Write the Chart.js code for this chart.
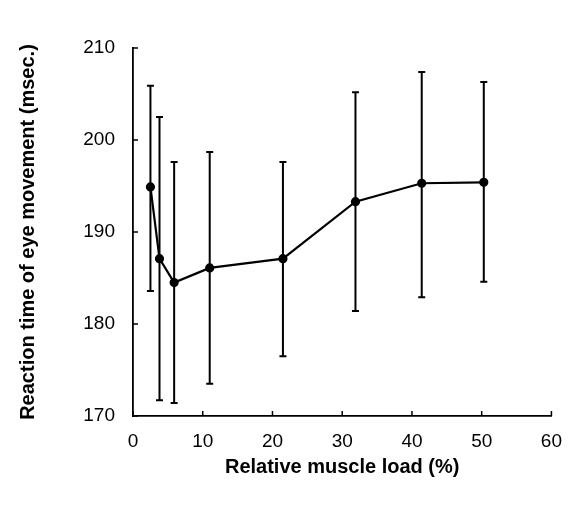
<!DOCTYPE html>
<html>
<head>
<meta charset="utf-8">
<script src="https://cdn.jsdelivr.net/npm/chart.js@4/dist/chart.umd.min.js"></script>
<style>
  html, body { margin: 0; padding: 0; background: #fff; }
  #wrap { width: 576px; height: 507px; position: relative; }
</style>
</head>
<body>
<div id="wrap"><canvas id="c" width="576" height="507"></canvas></div>
<script>
// Data
const loadPct   = [2.5, 3.8, 5.9, 11.0, 21.5, 31.9, 41.4, 50.3];
const meanRT    = [194.9, 187.1, 184.5, 186.1, 187.1, 193.3, 195.3, 195.4];
const errHigh   = [205.9, 202.5, 197.6, 198.7, 197.6, 205.2, 207.4, 206.3];
const errLow    = [183.6, 171.7, 171.4, 173.5, 176.5, 181.4, 182.9, 184.6];
const xTickVals = [0, 10, 20, 30, 40, 50, 60];
const yTickVals = [170, 180, 190, 200, 210];
const xTitle = 'Relative muscle load (%)';
const yTitle = 'Reaction time of eye movement (msec.)';

const FONT = "'Liberation Sans', Arial, Helvetica, sans-serif";

const errorBarPlugin = {
  id: 'errorBars',
  afterDatasetsDraw(chart) {
    const ctx = chart.ctx;
    const xs = chart.scales.x, ys = chart.scales.y;
    ctx.save();
    ctx.strokeStyle = '#000';
    ctx.lineWidth = 2;
    for (let i = 0; i < loadPct.length; i++) {
      const px = xs.getPixelForValue(loadPct[i]);
      const top = ys.getPixelForValue(errHigh[i]);
      const bot = ys.getPixelForValue(errLow[i]);
      ctx.beginPath();
      ctx.moveTo(px, top); ctx.lineTo(px, bot);
      ctx.moveTo(px - 3.5, top); ctx.lineTo(px + 3.5, top);
      ctx.moveTo(px - 3.5, bot); ctx.lineTo(px + 3.5, bot);
      ctx.stroke();
    }
    ctx.restore();
  }
};

const innerTickPlugin = {
  id: 'innerTicks',
  afterDraw(chart) {
    const ctx = chart.ctx;
    const xs = chart.scales.x, ys = chart.scales.y;
    const area = chart.chartArea;
    ctx.save();
    ctx.strokeStyle = '#000';
    ctx.lineWidth = 1.5;
    ctx.beginPath();
    xTickVals.forEach(v => {
      const px = xs.getPixelForValue(v);
      ctx.moveTo(px, area.bottom);
      ctx.lineTo(px, area.bottom - 5);
    });
    yTickVals.forEach(v => {
      const py = ys.getPixelForValue(v);
      ctx.moveTo(area.left, py);
      ctx.lineTo(area.left + 5, py);
    });
    ctx.stroke();
    ctx.restore();
  }
};

new Chart(document.getElementById('c'), {
  type: 'line',
  data: {
    datasets: [{
      data: loadPct.map((x, i) => ({ x: x, y: meanRT[i] })),
      borderColor: '#000',
      backgroundColor: '#000',
      borderWidth: 2.2,
      pointRadius: 3.5,
      pointBackgroundColor: '#000',
      pointBorderColor: '#000',
      tension: 0,
      fill: false
    }]
  },
  options: {
    responsive: false,
    animation: false,
    devicePixelRatio: 1,
    layout: { padding: { top: 48, right: 14, left: 0, bottom: 28 } },
    plugins: { legend: { display: false }, tooltip: { enabled: false } },
    scales: {
      x: {
        type: 'linear',
        min: 0, max: 60,
        afterFit(s) { s.height = 63; },
        afterBuildTicks(s) { s.ticks = xTickVals.map(v => ({ value: v })); },
        grid: { display: false, drawTicks: false },
        border: { display: true, color: '#000', width: 1.8 },
        ticks: { color: '#000', padding: 14, font: { family: FONT, size: 19 }, maxRotation: 0 },
        title: { display: true, text: xTitle, color: '#000',
                 font: { family: FONT, size: 20, weight: 'bold' }, padding: { top: 8, bottom: 0 } }
      },
      y: {
        type: 'linear',
        min: 170, max: 210,
        afterFit(s) { s.width = 133; },
        afterBuildTicks(s) { s.ticks = yTickVals.map(v => ({ value: v })); },
        grid: { display: false, drawTicks: false },
        border: { display: true, color: '#000', width: 1.8 },
        ticks: { color: '#000', padding: 18, font: { family: FONT, size: 19 } },
        title: { display: true, text: yTitle, color: '#000',
                 font: { family: FONT, size: 20, weight: 'bold' }, padding: { top: 16, bottom: 0 } }
      }
    }
  },
  plugins: [errorBarPlugin, innerTickPlugin]
});
</script>
</body>
</html>
